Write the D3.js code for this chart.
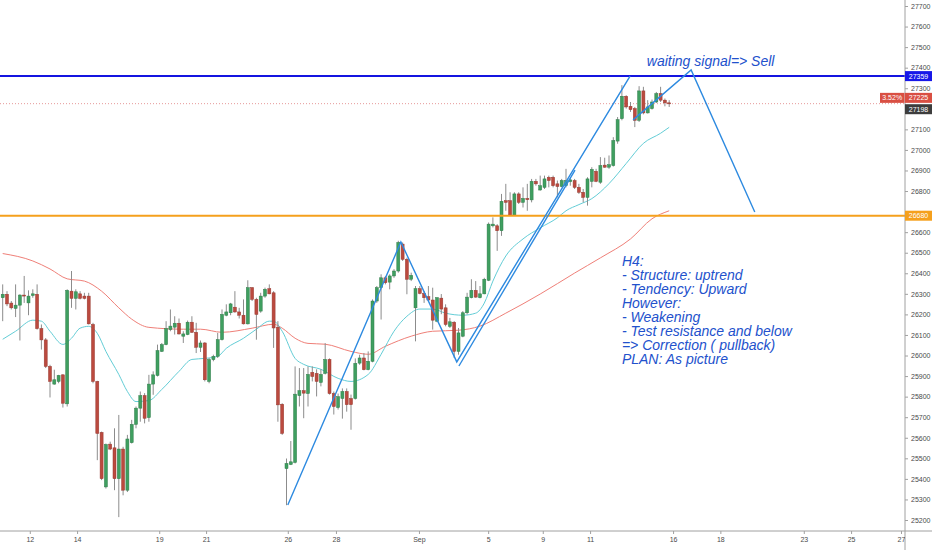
<!DOCTYPE html>
<meta charset="utf-8">
<style>
body { margin: 0; background: #fff; }
svg { display: block; font-family: "Liberation Sans", Arial, sans-serif; }
.axis text { font-size: 7px; fill: #4a4a4a; }
.axis line, .axis path { stroke: #a0a0a0; }
.note { font-size: 14px; font-style: italic; fill: #2251cc; }
</style>
<svg width="932" height="550"></svg>
<script src="https://d3js.org/d3.v7.min.js"></script>
<script>

// H4 candles, [open, high, low, close], one per bar
var ohlc = [
  [26281,26346,26167,26298],[26298,26313,26240,26251],[26255,26265,26224,26232],[26229,26346,26187,26245],
  [26245,26298,26073,26294],[26294,26387,26256,26290],[26256,26317,26196,26289],[26292,26322,26281,26300],
  [26298,26346,26126,26131],[26131,26151,26029,26076],[26076,26085,25939,25947],[25947,25955,25796,25874],
  [25861,25931,25858,25882],[25874,25906,25865,25903],[25906,25909,25747,25768],[25765,26322,25752,26317],
  [26313,26411,26232,26278],[26278,26322,26224,26310],[26300,26313,26273,26278],[26289,26305,26273,26278],
  [26289,26305,26151,26154],[26151,26159,25865,25874],[25874,25877,25491,25621],[25626,25630,25394,25401],
  [25361,25572,25353,25567],[25569,25581,25540,25545],[25551,25646,25345,25401],[25401,25711,25214,25545],
  [25545,25556,25320,25345],[25345,25614,25336,25594],[25576,25687,25572,25665],[25665,25752,25646,25744],
  [25744,25825,25678,25805],[25805,25817,25670,25695],[25698,25906,25678,25861],[25861,25923,25809,25906],
  [25903,26053,25898,26024],[26020,26061,26017,26053],[26053,26167,26050,26131],[26126,26224,26118,26143],
  [26138,26191,26102,26157],[26157,26180,26102,26105],[26094,26118,26061,26105],[26102,26170,26099,26162],
  [26162,26191,26110,26113],[26113,26159,26012,26040],[26040,26073,26017,26061],[26061,26065,25874,25882],
  [25874,25988,25865,25980],[25980,26004,25972,25996],[25996,26110,25988,26077],[26077,26224,26073,26200],
  [26196,26249,26191,26212],[26208,26256,26196,26251],[26235,26313,26208,26212],[26212,26232,26180,26196],
  [26196,26273,26151,26154],[26154,26366,26151,26330],[26330,26333,26265,26273],[26273,26281,26077,26200],
  [26216,26305,26208,26289],[26289,26330,26281,26322],[26325,26346,26298,26300],[26305,26313,26037,26134],
  [26138,26167,25678,25760],[25763,25768,25614,25621],[25450,25499,25272,25475],[25470,25584,25467,25483],
  [25480,25947,25475,25812],[25805,25939,25752,25829],[25829,25939,25695,25817],[25815,25947,25752,25908],
  [25918,25947,25874,25898],[25913,25933,25801,25874],[25869,25933,25850,25908],[25913,26060,25908,25981],
  [25981,25986,25810,25815],[25815,25825,25713,25752],[25747,25815,25737,25800],[25791,25840,25693,25825],
  [25825,25840,25727,25761],[25791,25810,25639,25761],[25791,25986,25786,25962],[25963,26004,25955,25988],
  [25988,26012,25928,25931],[25931,26020,25928,25972],[25972,26273,25967,26265],[26265,26338,26256,26330],
  [26330,26395,26175,26378],[26378,26387,26346,26354],[26357,26395,26322,26387],[26387,26420,26378,26411],
  [26411,26558,26403,26550],[26542,26550,26460,26468],[26468,26476,26298,26371],[26371,26403,26362,26390],
  [26232,26338,26069,26325],[26325,26338,26298,26302],[26302,26313,26256,26281],[26286,26338,26265,26270],
  [26270,26330,26126,26172],[26167,26284,26162,26281],[26279,26299,26201,26226],[26232,26249,26142,26151],
  [26142,26183,26134,26164],[26162,26167,25988,26020],[26020,26134,26004,26110],[26094,26216,26089,26208],
  [26208,26305,26200,26284],[26281,26371,26278,26317],[26317,26362,26281,26284],[26281,26338,26278,26300],
  [26300,26378,26298,26371],[26366,26647,26362,26639],[26631,26672,26623,26639],[26631,26639,26509,26607],
  [26607,26786,26582,26750],[26753,26835,26704,26745],[26753,26794,26680,26683],[26683,26794,26680,26786],
  [26786,26794,26737,26745],[26745,26818,26720,26764],[26764,26835,26704,26758],[26757,26859,26745,26847],
  [26847,26859,26826,26835],[26805,26875,26802,26826],[26818,26875,26810,26859],[26867,26875,26818,26851],
  [26867,26875,26818,26826],[26835,26851,26769,26822],[26822,26859,26818,26851],[26826,26908,26818,26851],
  [26846,26864,26826,26854],[26851,26859,26810,26818],[26818,26835,26786,26794],[26794,26810,26745,26769],
  [26769,26867,26729,26859],[26847,26916,26818,26905],[26896,26908,26843,26847],[26843,26965,26835,26924],
  [26926,26962,26913,26916],[26916,26973,26908,26928],[26924,27062,26919,27046],[27043,27160,27030,27147],
  [27152,27315,27144,27261],[27261,27266,27201,27209],[27212,27233,27185,27196],[27201,27209,27111,27144],
  [27144,27310,27136,27287],[27287,27307,27173,27180],[27180,27242,27177,27209],[27201,27245,27196,27233],
  [27233,27282,27228,27274],[27274,27307,27233,27242],[27242,27250,27212,27229],[27229,27242,27209,27225]
];

// moving averages, [bar, value]
var slowMA = [[0,26496],[7,26460],[11,26421],[15,26373],[19,26362],[23,26313],[27,26232],[30,26177],
  [34,26137],[42,26128],[46,26128],[51,26113],[58,26133],[63,26152],[65,26133],[68,26084],[71,26059],
  [75,26055],[81,26020],[85,26006],[89,26045],[95,26094],[100,26118],[106,26123],[111,26143],[117,26206],
  [125,26299],[133,26401],[139,26475],[146,26567],[151,26665],[155,26704]];
var fastMA = [[0,26079],[3,26118],[7,26172],[9,26167],[11,26118],[14,26054],[16,26084],[18,26133],
  [20,26142],[22,26108],[24,26020],[27,25908],[29,25825],[31,25776],[34,25781],[37,25835],[41,25923],
  [44,25981],[47,25986],[50,25996],[52,26035],[56,26084],[59,26128],[62,26167],[63,26167],[65,26118],
  [68,25986],[70,25957],[74,25933],[78,25889],[81,25874],[85,25908],[88,26006],[91,26118],[94,26191],
  [97,26226],[100,26226],[103,26206],[107,26196],[110,26206],[112,26255],[114,26362],[117,26484],
  [121,26567],[125,26621],[129,26670],[131,26704],[134,26734],[137,26763],[141,26836],[145,26934],
  [149,27032],[153,27081],[155,27110]];

// drawn levels and annotation legs, [bar, price]
var resistance = 27359, support = 26680, lastPrice = 27225, lastLow = 27198;
var zigzag = [[66.3,25273],[92.6,26552],[105.6,25969],[145.9,27359]];
var trendLeg = [[106.1,25949],[133.1,26902]];
var signalLeg = [[146.6,27146],[160.1,27389],[174.9,26698]];

var dateLabels = ["12","14","19","21","26","28","Sep","5","9","11","16","18","23","25","27"];
var dateBars = [6.3,17.3,36.4,47.3,66.3,77.5,96.8,112.9,125.6,136.6,155.9,166.9,186.3,197.3,208.9];

var notes = ["H4:", "- Structure: uptrend", "- Tendency: Upward", "However:", "- Weakening",
  "- Test resistance and below", "=> Correction ( pullback)", "PLAN: As picture"];

var svg = d3.select("svg"),
    width = +svg.attr("width"),
    height = +svg.attr("height"),
    plotW = 905,
    axisY = 531;

var x = d3.scaleLinear().domain([0, ohlc.length - 1]).range([2.7, 2.7 + 4.3 * (ohlc.length - 1)]);
var y = d3.scaleLinear().domain([25200, 27700]).range([520, 6]);

svg.append("clipPath").attr("id", "plot")
  .append("rect").attr("width", plotW).attr("height", axisY);

var g = svg.append("g").attr("clip-path", "url(#plot)");

var line = d3.line().x(function(d) { return x(d[0]); }).y(function(d) { return y(d[1]); });
var smooth = d3.line().curve(d3.curveMonotoneX)
    .x(function(d) { return x(d[0]); }).y(function(d) { return y(d[1]); });

// last price dotted line
g.append("line")
    .attr("x1", 0).attr("x2", plotW)
    .attr("y1", y(lastPrice)).attr("y2", y(lastPrice))
    .attr("stroke", "#e79a9a").attr("stroke-dasharray", "1,2");

// moving averages
g.append("path").attr("d", smooth(slowMA))
    .attr("fill", "none").attr("stroke", "#ef7f78").attr("stroke-width", 1);
g.append("path").attr("d", smooth(fastMA))
    .attr("fill", "none").attr("stroke", "#63cdd6").attr("stroke-width", 1);

// candles
var up = "#3f9f60", down = "#bb4a3f";
var c = g.selectAll(".candle").data(ohlc).enter().append("g");
c.append("line")
    .attr("x1", function(d, i) { return x(i); })
    .attr("x2", function(d, i) { return x(i); })
    .attr("y1", function(d) { return y(d[1]); })
    .attr("y2", function(d) { return y(d[2]); })
    .attr("stroke", "#8c8c8c").attr("stroke-width", 1);
c.append("rect")
    .attr("x", function(d, i) { return x(i) - 1.5; })
    .attr("width", 3)
    .attr("y", function(d) { return y(Math.max(d[0], d[3])); })
    .attr("height", function(d) { return Math.max(1, Math.abs(y(d[0]) - y(d[3]))); })
    .attr("fill", function(d) { return d[3] >= d[0] ? up : down; })
    .attr("stroke", function(d) { return d[3] >= d[0] ? "#2f7d4a" : "#97382f"; })
    .attr("stroke-width", 0.5);

// horizontal levels
g.append("line").attr("x1", 0).attr("x2", plotW)
    .attr("y1", y(resistance)).attr("y2", y(resistance))
    .attr("stroke", "#1414e0").attr("stroke-width", 2);
g.append("line").attr("x1", 0).attr("x2", plotW)
    .attr("y1", y(support)).attr("y2", y(support))
    .attr("stroke", "#f5a01c").attr("stroke-width", 2);

// annotation legs
[zigzag, trendLeg, signalLeg].forEach(function(pts) {
  g.append("path").attr("d", line(pts))
      .attr("fill", "none").attr("stroke", "#2d8ae0").attr("stroke-width", 1.4);
});

// notes
g.append("text").attr("class", "note")
    .attr("x", x(149.8)).attr("y", y(27406))
    .text("waiting signal=> Sell");
var block = g.append("text").attr("class", "note");
block.selectAll("tspan").data(notes).enter().append("tspan")
    .attr("x", x(144))
    .attr("y", function(d, i) { return y(26433) + i * 13.93; })
    .text(function(d) { return d; });

// price tags on the axis; tick labels hidden under a tag are dropped, like the platform does
var tags = [
  {v: resistance, dy: 0, fill: "#1717e8", label: "27359"},
  {v: lastPrice, dy: -5.8, fill: "#d94f43", label: "27225", pct: "3.52%"},
  {v: lastLow, dy: 0, fill: "#3d3d3d", label: "27198"},
  {v: support, dy: 0, fill: "#f5a01c", label: "26680"}
];
var priceTicks = d3.range(25200, 27701, 100).filter(function(t) {
  return tags.every(function(d) { return Math.abs(y(t) - (y(d.v) + d.dy)) > 8; });
});

// price axis
var yAxis = svg.append("g").attr("class", "axis")
    .attr("transform", "translate(" + plotW + ",0)")
    .call(d3.axisRight(y).tickValues(priceTicks).tickSize(3).tickPadding(3).tickFormat(d3.format("d")));
yAxis.select(".domain").remove();
svg.append("line").attr("x1", plotW).attr("x2", plotW).attr("y1", 0).attr("y2", height)
    .attr("stroke", "#a0a0a0");

// time axis
svg.append("clipPath").attr("id", "xclip")
  .append("rect").attr("width", plotW).attr("height", height);
var xAxis = svg.append("g").attr("class", "axis")
    .attr("clip-path", "url(#xclip)")
    .attr("transform", "translate(0," + axisY + ")")
    .call(d3.axisBottom(x).tickValues(dateBars).tickSize(3).tickPadding(3)
      .tickFormat(function(d, i) { return dateLabels[i]; }));
xAxis.select(".domain").remove();
svg.append("line").attr("x1", 0).attr("x2", width).attr("y1", axisY).attr("y2", axisY)
    .attr("stroke", "#a0a0a0");

tags.forEach(function(d) {
  var cy = y(d.v) + d.dy;
  svg.append("rect").attr("x", plotW).attr("y", cy - 5).attr("width", width - plotW).attr("height", 10)
      .attr("fill", d.fill);
  svg.append("text").attr("x", plotW + 13.5).attr("y", cy + 2.5)
      .attr("text-anchor", "middle").attr("fill", "#fff").attr("font-size", 7).text(d.label);
  if (d.pct) {
    svg.append("rect").attr("x", plotW - 25).attr("y", cy - 5).attr("width", 24.5).attr("height", 10)
        .attr("fill", d.fill);
    svg.append("text").attr("x", plotW - 12.8).attr("y", cy + 2.5)
        .attr("text-anchor", "middle").attr("fill", "#fff").attr("font-size", 7).text(d.pct);
  }
});

</script>
